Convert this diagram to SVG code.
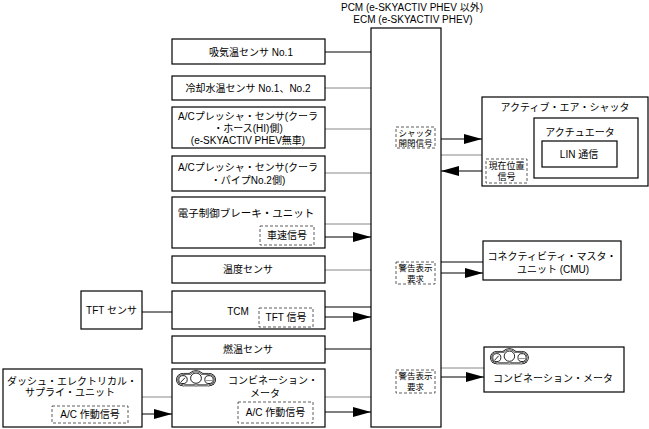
<svg xmlns="http://www.w3.org/2000/svg" width="649" height="429" viewBox="0 0 649 429">
<defs>
<style>
text{font-family:"Liberation Sans","Noto Sans CJK JP",sans-serif;font-size:10px;fill:#000;text-anchor:middle;dominant-baseline:central}
.box{fill:#fff;stroke:#000;stroke-width:1.2}
.dash{fill:#fff;stroke:#333;stroke-width:0.8;stroke-dasharray:3,2}
.ln{stroke:#000;stroke-width:1;fill:none}
.lg{stroke:#888;stroke-width:1;fill:none}
.ar{stroke:#000;stroke-width:1.2;fill:none;marker-end:url(#ah)}
.ic{fill:none;stroke:#000;stroke-width:0.9}
.k{fill:#000}
.w{fill:#fff}
</style>
<marker id="ah" markerUnits="userSpaceOnUse" markerWidth="18" markerHeight="10" refX="18" refY="5" orient="auto">
<path d="M0,0 L18,5 L0,10 z" fill="#000"/>
</marker>
<g id="meter-icon">
<g class="k"><circle cx="7" cy="8" r="7"/><circle cx="20" cy="6.5" r="8.4"/><circle cx="33" cy="8" r="7"/><rect x="7" y="1" width="26" height="14"/></g>
<g class="w"><circle cx="7" cy="8" r="6.2"/><circle cx="20" cy="6.5" r="7.6"/><circle cx="33" cy="8" r="6.2"/><rect x="7" y="1.8" width="26" height="12.4"/></g>
<g class="k"><circle cx="7" cy="8" r="5.6"/><circle cx="20" cy="6.5" r="7"/><circle cx="33" cy="8" r="5.6"/><rect x="7" y="2.4" width="26" height="11.2"/></g>
<g class="w"><circle cx="7" cy="8" r="5.1"/><circle cx="20" cy="6.5" r="6.5"/><circle cx="33" cy="8" r="5.1"/><rect x="7" y="2.9" width="26" height="10.2"/></g>
<circle class="ic" cx="7" cy="8" r="4.2"/>
<circle class="ic" cx="20" cy="6.5" r="5.4"/>
<circle class="ic" cx="33" cy="8" r="4.2"/>
<path class="ic" d="M5,10.5 L9,6"/>
<path class="ic" d="M30.5,9 h1 M32.5,9 h1 M34.5,9 h1"/>
</g>
</defs>
<rect width="649" height="429" fill="#fff"/>

<g id="title">
<text x="412" y="7">PCM (e-SKYACTIV PHEV 以外)</text>
<text x="413" y="19">ECM (e-SKYACTIV PHEV)</text>
</g>

<g id="connectors">
<path class="ln" d="M325,52 H371"/>
<path class="lg" d="M325,88 H371"/>
<path class="lg" d="M325,129 H371"/>
<path class="lg" d="M325,173 H371"/>
<path class="lg" d="M325,224 H371"/>
<path class="ar" d="M314,237 H371"/>
<path class="lg" d="M325,270 H371"/>
<path class="ln" d="M142,312 H172"/>
<path class="ln" d="M325,307 H371"/>
<path class="ar" d="M313,317 H371"/>
<path class="ln" d="M325,349 H371"/>
<path class="lg" d="M142,397 H172"/>
<path class="ar" d="M128,414 H172"/>
<path class="lg" d="M325,397 H371"/>
<path class="ar" d="M313,412 H371"/>
<path class="ar" d="M435,139 H482"/>
<path class="lg" d="M441,155 H542"/>
<path class="ar" d="M486,171 H441"/>
<path class="ln" d="M441,262 H483"/>
<path class="ar" d="M435,273 H483"/>
<path class="lg" d="M441,368 H484"/>
<path class="ar" d="M435,377 H484"/>
</g>

<g id="ecm">
<rect class="box" x="371" y="28" width="70" height="399"/>
</g>
<g id="sig-shutter">
<rect class="dash" x="396" y="127" width="39" height="21"/>
<text x="415.5" y="132.5" style="font-size:8.5px">シャッタ</text>
<text x="415.5" y="143" style="font-size:8.5px">開閉信号</text>
</g>
<g id="sig-warn1">
<rect class="dash" x="396" y="262" width="39" height="22"/>
<text x="415.5" y="267.5" style="font-size:8.5px">警告表示</text>
<text x="415.5" y="278.5" style="font-size:8.5px">要求</text>
</g>
<g id="sig-warn2">
<rect class="dash" x="396" y="370" width="39" height="23"/>
<text x="415.5" y="376" style="font-size:8.5px">警告表示</text>
<text x="415.5" y="387" style="font-size:8.5px">要求</text>
</g>

<g id="intake-temp">
<rect class="box" x="172" y="39" width="153" height="25"/>
<text x="251" y="52">吸気温センサ No.1</text>
</g>
<g id="coolant-temp">
<rect class="box" x="172" y="76" width="153" height="24"/>
<text x="248" y="88">冷却水温センサ No.1、No.2</text>
</g>
<g id="ac-pressure-hi">
<rect class="box" x="172" y="107" width="153" height="41"/>
<text x="248" y="116">A/Cプレッシャ・センサ(クーラ</text>
<text x="248" y="128">・ホース(HI)側)</text>
<text x="248" y="140">(e-SKYACTIV PHEV無車)</text>
</g>
<g id="ac-pressure-pipe">
<rect class="box" x="172" y="156" width="153" height="35"/>
<text x="248" y="167">A/Cプレッシャ・センサ(クーラ</text>
<text x="248" y="180">・パイプNo.2側)</text>
</g>
<g id="brake-unit">
<rect class="box" x="172" y="197" width="153" height="51"/>
<text x="246" y="213" style="font-size:10.5px">電子制御ブレーキ・ユニット</text>
<rect class="dash" x="260" y="226" width="54" height="19"/>
<text x="287" y="235.5">車速信号</text>
</g>
<g id="temp-sensor">
<rect class="box" x="172" y="256" width="153" height="27"/>
<text x="248" y="269.5">温度センサ</text>
</g>
<g id="tft-sensor">
<rect class="box" x="81" y="291" width="61" height="38"/>
<text x="111.5" y="310">TFT センサ</text>
</g>
<g id="tcm">
<rect class="box" x="172" y="291" width="153" height="38"/>
<text x="238" y="311">TCM</text>
<rect class="dash" x="259" y="308" width="54" height="19"/>
<text x="286" y="317.5">TFT 信号</text>
</g>
<g id="fuel-temp">
<rect class="box" x="172" y="336" width="153" height="27"/>
<text x="248" y="349.5">燃温センサ</text>
</g>
<g id="dash-unit">
<rect class="box" x="3" y="369" width="139" height="58"/>
<text x="72" y="381">ダッシュ・エレクトリカル・</text>
<text x="70" y="392">サプライ・ユニット</text>
<rect class="dash" x="52" y="406" width="76" height="17"/>
<text x="90" y="414.5">A/C 作動信号</text>
</g>
<g id="combi-meter-left">
<rect class="box" x="172" y="369" width="153" height="58"/>
<use href="#meter-icon" transform="translate(176,372) scale(1,0.95)"/>
<text x="273" y="380">コンビネーション・</text>
<text x="265" y="393">メータ</text>
<rect class="dash" x="238" y="402" width="75" height="21"/>
<text x="275.5" y="412">A/C 作動信号</text>
</g>

<g id="air-shutter">
<rect class="box" x="482" y="97" width="166" height="89"/>
<text x="565" y="107">アクティブ・エア・シャッタ</text>
</g>
<g id="actuator">
<rect class="box" x="534" y="118" width="104" height="60"/>
<text x="580" y="132">アクチュエータ</text>
</g>
<g id="lin">
<rect class="box" x="542" y="141" width="75" height="26"/>
<text x="579" y="154">LIN 通信</text>
</g>
<g id="sig-position">
<rect class="dash" x="486" y="159" width="41" height="24"/>
<text x="506.5" y="165.5" style="font-size:9px">現在位置</text>
<text x="506.5" y="177" style="font-size:9px">信号</text>
</g>
<g id="cmu">
<rect class="box" x="483" y="241" width="138" height="39"/>
<text x="552" y="256">コネクティビティ・マスタ・</text>
<text x="553" y="269">ユニット (CMU)</text>
</g>
<g id="combi-meter-right">
<rect class="box" x="484" y="347" width="140" height="45"/>
<use href="#meter-icon" transform="translate(490,350) scale(0.97,0.95)"/>
<text x="553" y="378">コンビネーション・メータ</text>
</g>
</svg>
